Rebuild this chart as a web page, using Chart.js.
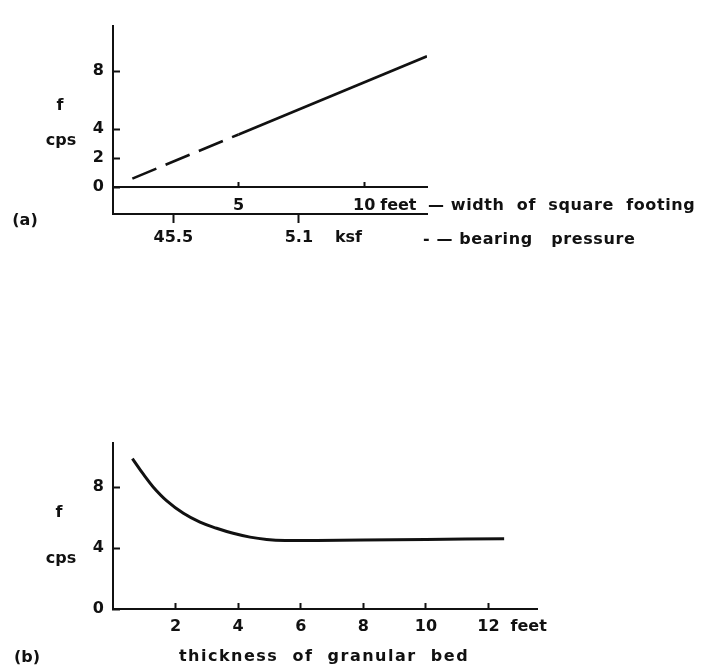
<!DOCTYPE html>
<html>
<head>
<meta charset="utf-8">
<title>Natural frequency of footings</title>
<script src="https://cdn.jsdelivr.net/npm/chart.js@4.4.1/dist/chart.umd.min.js"></script>
<style>
  html, body { margin: 0; padding: 0; background: #fff; }
  #wrap { position: relative; width: 704px; height: 670px; }
  canvas { position: absolute; left: 0; }
  #chartA { top: 0; }
  #chartB { top: 380px; }
</style>
</head>
<body>
<div id="wrap">
  <canvas id="chartA" width="704" height="260"></canvas>
  <canvas id="chartB" width="704" height="290"></canvas>
</div>
<script>
// --- (a) f vs width of square footing ---
const footingWidth = [0.77, 5.0, 12.5];
const footingFreq = [0.59, 3.64, 9.04];
const widthTicks = [5, 10];
const pressureTickPos = [2.4, 7.4];
const pressureTickLabels = ["45.5", "5.1"];
const freqTicksA = [0, 2, 4, 8];

// --- (b) f vs thickness of granular bed ---
const bedThickness = [0.62, 0.97, 1.29, 1.72, 2.25, 2.78, 3.31, 3.84, 4.38, 4.91, 5.5, 6.5, 8, 10, 12.5];
const bedFreq = [9.88, 8.85, 8.0, 7.1, 6.28, 5.7, 5.3, 4.97, 4.72, 4.57, 4.5, 4.5, 4.53, 4.57, 4.62];
const thicknessTicks = [2, 4, 6, 8, 10, 12];
const freqTicksB = [0, 4, 8];

const INK = "#111";
const FONT = "DejaVu Sans";
Chart.defaults.font.family = FONT;
Chart.defaults.font.size = 16;
Chart.defaults.font.weight = "bold";
Chart.defaults.color = INK;

function fixedTicks(values) {
  return scale => { scale.ticks = values.map(v => ({ value: v })); };
}

function axisStyle(tickLength) {
  return {
    grid: { drawOnChartArea: false, tickLength: tickLength, tickWidth: 2, tickColor: INK },
    border: { color: INK, width: 2 }
  };
}

// loose text next to the axes (units, titles, panel letters)
function makeNotes(items) {
  return {
    id: "notes",
    afterDraw(chart) {
      const ctx = chart.ctx;
      const s = chart.scales;
      ctx.save();
      ctx.fillStyle = INK;
      ctx.textBaseline = "middle";
      for (const n of items) {
        ctx.font = "bold 16px '" + FONT + "'";
        ctx.letterSpacing = (n.spacing || 0) + "px";
        ctx.textAlign = n.align || "left";
        const p = n.at(s);
        ctx.fillText(n.text, p[0], p[1]);
      }
      ctx.restore();
    }
  };
}

const notesA = [
  { text: "(a)", align: "center", at: () => [25, 221] },
  { text: "f", align: "center", at: s => [60, s.y.getPixelForValue(5.6)] },
  { text: "cps", align: "center", at: s => [61, s.y.getPixelForValue(3.2)] },
  { text: "feet", at: s => [s.xw.getPixelForValue(10) + 16, s.y.getPixelForValue(0) + 19] },
  { text: "\u2014 width  of  square  footing", spacing: 0.6, at: s => [s.xw.right + 1, s.y.getPixelForValue(0) + 19] },
  { text: "ksf", at: s => [s.x.getPixelForValue(7.4) + 36, s.x.top + 24] },
  { text: "- \u2014 bearing   pressure", spacing: 0.6, at: s => [s.x.right - 4, s.x.top + 26] }
];

const notesB = [
  { text: "(b)", align: "center", at: () => [27, 278] },
  { text: "f", align: "center", at: s => [59, s.y.getPixelForValue(6.3)] },
  { text: "cps", align: "center", at: s => [61, s.y.getPixelForValue(3.3)] },
  { text: "feet", at: s => [s.x.getPixelForValue(12) + 22, s.x.top + 18] },
  { text: "thickness  of  granular  bed", spacing: 1.5, align: "center", at: s => [324, s.x.top + 48] }
];

new Chart(document.getElementById("chartA"), {
  type: "scatter",
  data: {
    datasets: [{
      data: footingWidth.map((x, i) => ({ x: x, y: footingFreq[i] })),
      xAxisID: "xw",
      yAxisID: "y",
      showLine: true,
      borderColor: INK,
      borderWidth: 2.6,
      pointRadius: 0,
      segment: { borderDash: c => (c.p0DataIndex === 0 ? [26, 10] : []) }
    }]
  },
  options: {
    responsive: false,
    animation: false,
    devicePixelRatio: 1,
    layout: { padding: { top: 7, right: 277, left: 0, bottom: 0 } },
    plugins: { legend: { display: false }, tooltip: { enabled: false } },
    scales: {
      x: {
        type: "linear", position: "bottom", min: 0, max: 12.5,
        afterBuildTicks: fixedTicks(pressureTickPos),
        afterFit: s => { s.height = 46; },
        ...axisStyle(9),
        ticks: { padding: 5, callback: (v, i) => pressureTickLabels[i] }
      },
      xw: {
        type: "linear", axis: "x", position: { y: 0 }, min: 0, max: 12.5,
        afterBuildTicks: fixedTicks(widthTicks),
        ...axisStyle(-6),
        ticks: { padding: 15 }
      },
      y: {
        type: "linear", position: "left", min: -1.855, max: 11.16,
        afterBuildTicks: fixedTicks(freqTicksA),
        afterFit: s => { s.width = 113; },
        ...axisStyle(-7),
        ticks: { padding: 16 }
      }
    }
  },
  plugins: [makeNotes(notesA)]
});

new Chart(document.getElementById("chartB"), {
  type: "scatter",
  data: {
    datasets: [{
      data: bedThickness.map((x, i) => ({ x: x, y: bedFreq[i] })),
      showLine: true,
      borderColor: INK,
      borderWidth: 3,
      pointRadius: 0,
      tension: 0.4
    }]
  },
  options: {
    responsive: false,
    animation: false,
    devicePixelRatio: 1,
    layout: { padding: { top: 63, right: 167, left: 0, bottom: 0 } },
    plugins: { legend: { display: false }, tooltip: { enabled: false } },
    scales: {
      x: {
        type: "linear", position: "bottom", min: 0, max: 13.55,
        afterBuildTicks: fixedTicks(thicknessTicks),
        afterFit: s => { s.height = 61; },
        ...axisStyle(-6),
        ticks: { padding: 14 }
      },
      y: {
        type: "linear", position: "left", min: 0, max: 10.9,
        afterBuildTicks: fixedTicks(freqTicksB),
        afterFit: s => { s.width = 113; },
        ...axisStyle(-7),
        ticks: { padding: 16 }
      }
    }
  },
  plugins: [makeNotes(notesB)]
});
</script>
</body>
</html>
